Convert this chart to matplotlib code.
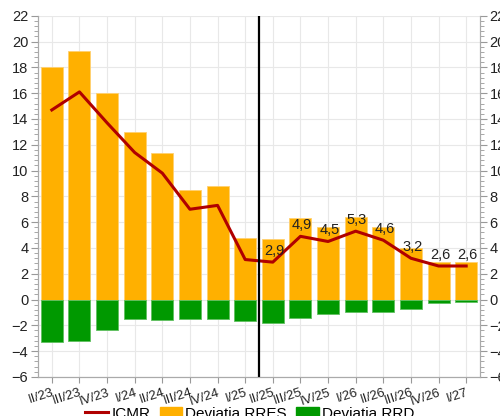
import numpy as np
import matplotlib
matplotlib.use('Agg')
import matplotlib.pyplot as plt
from matplotlib.patches import Patch
from matplotlib.lines import Line2D

plt.rcParams['font.family'] = ['Liberation Sans', 'DejaVu Sans']

quarters = ['II/23', 'III/23', 'IV/23', 'I/24', 'II/24', 'III/24', 'IV/24', 'I/25',
            'II/25', 'III/25', 'IV/25', 'I/26', 'II/26', 'III/26', 'IV/26', 'I/27']
dev_rres = [18.0, 19.3, 16.0, 13.0, 11.4, 8.5, 8.8, 4.8,
            4.7, 6.3, 5.6, 6.4, 5.6, 4.0, 2.9, 2.9]
dev_rrd = [-3.3, -3.2, -2.4, -1.5, -1.6, -1.5, -1.5, -1.7,
           -1.8, -1.4, -1.1, -1.0, -1.0, -0.7, -0.3, -0.2]
icmr = [14.7, 16.1, 13.7, 11.4, 9.8, 7.0, 7.3, 3.1,
        2.9, 4.9, 4.5, 5.3, 4.6, 3.2, 2.6, 2.6]
first_labeled = 8  # labels shown from II/25 on

fig = plt.figure(figsize=(5, 4.16), dpi=100)
ax = fig.add_axes([0.076, 0.094, 0.884, 0.868])

x = np.arange(len(quarters))
ax.bar(x, dev_rres, width=0.8, color='#ffb000', edgecolor='#ffd070', linewidth=0.6, zorder=2)
ax.bar(x, dev_rrd, width=0.8, color='#009900', edgecolor='#60c060', linewidth=0.6, zorder=2)
ax.plot(x, icmr, color='#b00000', linewidth=2.2, zorder=3)
ax.axvline(7.5, color='black', linewidth=1.6, zorder=4)

for i in range(first_labeled, len(quarters)):
    ax.annotate(f'{icmr[i]:.1f}'.replace('.', ','), (x[i], icmr[i]),
                xytext=(1, 3), textcoords='offset points',
                ha='center', va='bottom', fontsize=10.5, color='#222222', zorder=5)

ax.set_xlim(-0.5, len(quarters) - 0.5)
ax.set_ylim(-6, 22)
ax.set_yticks(np.arange(-6, 23, 2))
ax.set_yticks(np.arange(-6, 22.01, 0.4), minor=True)
ax.set_xticks(x)
ax.set_xticklabels(quarters, rotation=18, ha='right', rotation_mode='anchor', fontsize=9.5)
ax.tick_params(axis='y', labelsize=10.5, colors='#222222', length=5, color='#999999', pad=2)
ax.tick_params(axis='y', which='minor', length=3, color='#999999')
ax.tick_params(axis='x', length=4, pad=3, colors='#222222')
ax.tick_params(axis='x', color='#999999')
ax.grid(True, color='#e8e8e8', linewidth=0.8, zorder=0)
ax.set_axisbelow(True)
ax.spines['top'].set_visible(False)
for s in ['left', 'right', 'bottom']:
    ax.spines[s].set_color('#aaaaaa')

ax2 = ax.twinx()
ax2.set_ylim(-6, 22)
ax2.set_yticks(np.arange(-6, 23, 2))
ax2.set_yticks(np.arange(-6, 22.01, 0.4), minor=True)
ax2.tick_params(axis='y', labelsize=10.5, colors='#222222', length=5, color='#999999', pad=2)
ax2.tick_params(axis='y', which='minor', length=3, color='#999999')
ax2.spines['top'].set_visible(False)
for s in ['left', 'right', 'bottom']:
    ax2.spines[s].set_color('#aaaaaa')

handles = [Line2D([0], [0], color='#b00000', linewidth=2.2),
           Patch(color='#ffb000'), Patch(color='#009900')]
fig.legend(handles, ['ICMR', 'Deviatia RRES', 'Deviatia RRD'], loc='center',
           bbox_to_anchor=(0.5, 0.006), ncol=3, frameon=False, fontsize=11,
           handlelength=1.5, handletextpad=0.2, columnspacing=0.6)

fig.savefig('out.png', dpi=100)
